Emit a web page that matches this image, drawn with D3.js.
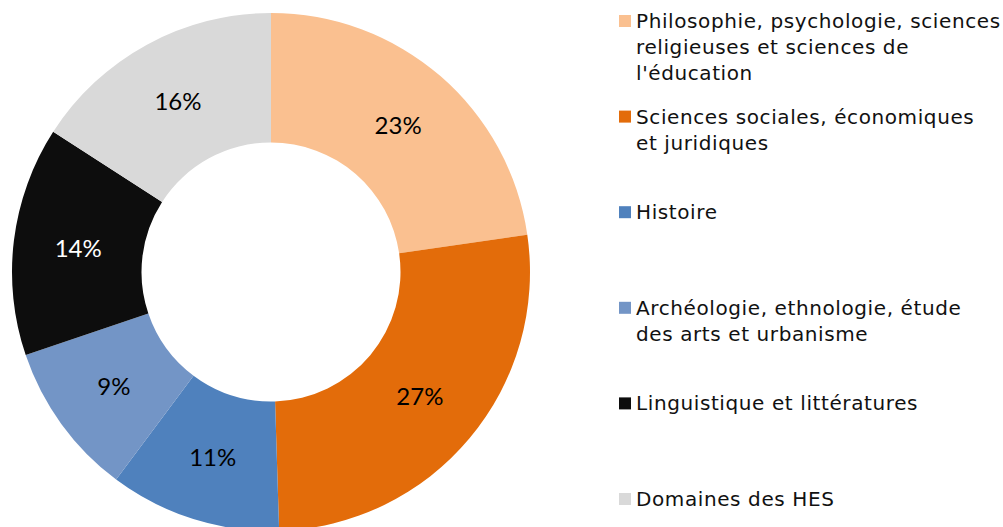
<!DOCTYPE html>
<html>
<head>
<meta charset="utf-8">
<script src="https://cdn.jsdelivr.net/npm/d3@7"></script>
<style>
  body { margin: 0; background: #fff; }
</style>
</head>
<body>
<div id="chart"></div>
<script>
const width = 1003;
const height = 527;

// categories, clockwise from 12 o'clock
const domains = [
    "Philosophie, psychologie, sciences|religieuses et sciences de|l'éducation",
    "Sciences sociales, économiques|et juridiques",
    "Histoire",
    "Archéologie, ethnologie, étude|des arts et urbanisme",
    "Linguistique et littératures",
    "Domaines des HES"
];
// slice shares
const shares = [22.7, 26.8, 10.7, 9.6, 14.3, 15.9];
// data labels as printed on the chart
const labels = ["23%", "27%", "11%", "9%", "14%", "16%"];
const colors = ["#FAC090", "#E36C0A", "#4F81BD", "#7395C6", "#0D0D0D", "#D9D9D9"];

const cx = 271, cy = 272;
const outerR = 259, innerR = 129.5;

const svg = d3.select("#chart")
    .append("svg")
    .attr("width", width)
    .attr("height", height);

const pie = d3.pie().sort(null).value(d => d);
const arc = d3.arc().innerRadius(innerR).outerRadius(outerR);
const arcs = pie(shares);

const donut = svg.append("g")
    .attr("transform", `translate(${cx}, ${cy})`);

donut.selectAll("path")
    .data(arcs)
    .enter()
    .append("path")
    .attr("d", arc)
    .attr("fill", (d, i) => colors[i]);

// percentage labels at the middle of the ring
donut.selectAll("text")
    .data(arcs)
    .enter()
    .append("text")
    .attr("transform", d => `translate(${arc.centroid(d)})`)
    .attr("text-anchor", "middle")
    .attr("dy", "0.36em")
    .attr("font-family", "Lato, sans-serif")
    .attr("font-size", "24px")
    .attr("fill", (d, i) => i == 4 ? "#ffffff" : "#000000")
    .text((d, i) => labels[i]);

// legend
const ly = d3.scalePoint()
    .domain(domains)
    .range([28, 506]);

const legend = svg.append("g")
    .attr("class", "legend")
    .selectAll("g")
    .data(domains)
    .enter()
    .append("g")
    .attr("transform", d => `translate(619, ${ly(d)})`);

legend.append("rect")
    .attr("x", 0)
    .attr("y", -13)
    .attr("width", 12)
    .attr("height", 12)
    .attr("fill", (d, i) => colors[i]);

legend.append("text")
    .attr("font-family", "'DejaVu Sans', Verdana, sans-serif")
    .attr("font-size", "20px")
    .attr("letter-spacing", "0.6px")
    .attr("fill", "#111")
    .selectAll("tspan")
    .data(d => d.split("|"))
    .enter()
    .append("tspan")
    .attr("x", 17)
    .attr("y", (d, i) => i * 26)
    .text(d => d);
</script>
</body>
</html>
